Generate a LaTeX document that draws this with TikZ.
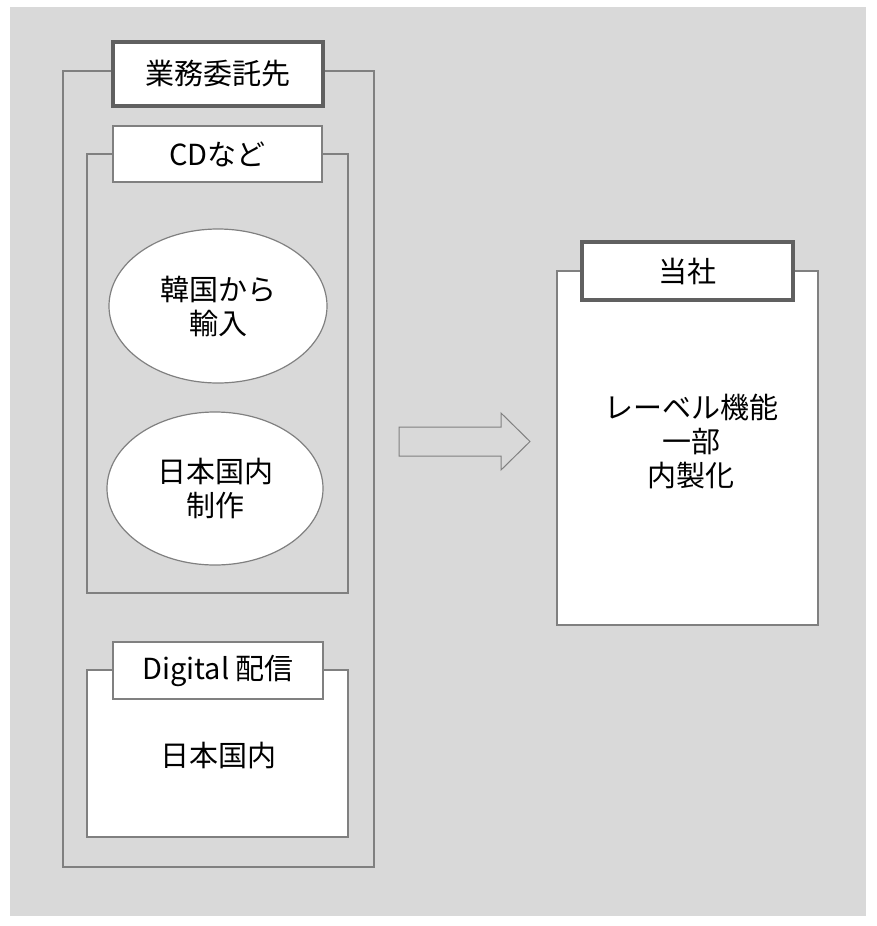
\documentclass[tikz,border=0pt]{standalone}
\usepackage{fontspec}
\setmainfont{Noto Sans CJK JP}
\usetikzlibrary{shapes.geometric}
\definecolor{bg}{HTML}{D9D9D9}
\definecolor{ln}{HTML}{808080}
\definecolor{thk}{HTML}{606060}
\tikzset{
  every node/.style={font=\fontsize{29}{34}\selectfont, text=black, inner sep=0pt, align=center},
  frame/.style={draw=ln, line width=1.2pt},
  wbox/.style={frame, fill=white},
  thicklabel/.style={draw=thk, line width=3.2pt, fill=white, rectangle},
  thinlabel/.style={draw=ln, line width=1.2pt, fill=white, rectangle},
  oval/.style={ellipse, draw=ln, line width=1.2pt, fill=white}
}
\begin{document}
\begin{tikzpicture}[x=1pt,y=-1pt]
\useasboundingbox (0,0) rectangle (876,926);
\fill[bg] (10,7) rectangle (866,916);
% outer container
\draw[frame] (63,71) rectangle (374,867);
\node[thicklabel, minimum width=210pt, minimum height=64pt] (gyomu) at (218,74) {業務委託先};
% CD container
\draw[frame] (87,154) rectangle (348,593);
\node[thinlabel, minimum width=209pt, minimum height=56pt] (cd) at (217.5,154) {CDなど};
\node[oval, minimum width=218pt, minimum height=154pt] (kankoku) at (218,306) {韓国から\\輸入};
\node[oval, minimum width=216pt, minimum height=153pt] (nihon) at (215,488.5) {日本国内\\制作};
% Digital container
\draw[wbox] (87,670) rectangle (348,837);
\node[thinlabel, minimum width=210pt, minimum height=57pt] (digital) at (218,670.5) {Digital 配信};
\node (dnihon) at (218,755) {日本国内};
% arrow
\draw[draw=ln, line width=1pt] (399,427) -- (501,427) -- (501,413) -- (530,441.5) -- (501,470) -- (501,456) -- (399,456) -- cycle;
% right container
\draw[wbox] (557,271) rectangle (818,625);
\node[thicklabel, minimum width=211pt, minimum height=58pt] (tousha) at (687.5,271) {当社};
\node (label) at (691,441) {レーベル機能\\一部\\内製化};
\end{tikzpicture}
\end{document}
